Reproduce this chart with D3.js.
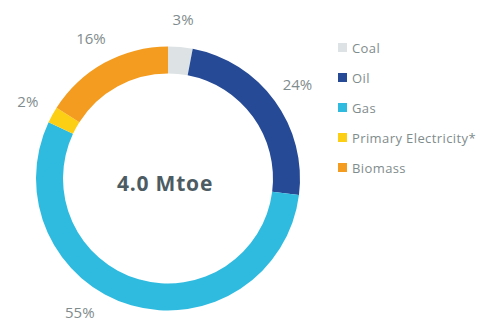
<!DOCTYPE html>
<html><head><meta charset="utf-8">
<script src="https://cdn.jsdelivr.net/npm/d3@7"></script>
<style>body{margin:0;background:#fff}svg{display:block}</style>
</head><body>
<svg id="c" width="486" height="322"></svg>
<script>
const categories = ["Coal", "Oil", "Gas", "Primary Electricity*", "Biomass"];
const shares = [3, 24, 55, 2, 16];
const colors = ["#dde3e4", "#264a96", "#2fbbe0", "#fccf14", "#f39c1f"];
const centerLabel = "4.0 Mtoe";

const W = 486, H = 322;
const cx = 168, cy = 178.5, rOut = 132, rIn = 105, rLab = 160;
const svg = d3.select("#c");
const g = svg.append("g").attr("transform", `translate(${cx},${cy})`);
const pie = d3.pie().sort(null).value(d => d)(shares);
const arc = d3.arc().innerRadius(rIn).outerRadius(rOut);
g.selectAll("path").data(pie).join("path")
  .attr("d", arc).attr("fill", (d, i) => colors[i]);

const txtCol = "#7f8c8d";
g.selectAll("text.lab").data(pie).join("text").attr("class", "lab")
  .each(function(d) {
    let a = (d.startAngle + d.endAngle) / 2;
    let x = rLab * Math.sin(a), y = -rLab * Math.cos(a);
    const maxY = H - 10 - cy;
    if (y > maxY) {
      const s = Math.sign(x) || 1;
      y = maxY;
      x = s * Math.sqrt(rLab * rLab - y * y);
    }
    d3.select(this).attr("x", x).attr("y", y);
  })
  .attr("text-anchor", "middle").attr("dominant-baseline", "central")
  .attr("font-family", "Open Sans, sans-serif").attr("font-size", 15)
  .attr("fill", txtCol)
  .text(d => d.data + "%");

g.append("text").attr("x", -3).attr("y", 4)
  .attr("text-anchor", "middle").attr("dominant-baseline", "central")
  .attr("font-family", "Open Sans, sans-serif").attr("font-weight", "bold")
  .attr("font-size", 21).attr("letter-spacing", 0.8)
  .attr("fill", "#4d5b63").text(centerLabel);

const y = d3.scalePoint().domain(categories).range([47.5, 167.5]);
const lg = svg.append("g");
const rows = lg.selectAll("g").data(categories).join("g")
  .attr("transform", d => `translate(338,${y(d)})`);
rows.append("rect").attr("x", 0).attr("y", -4.5).attr("width", 9).attr("height", 9)
  .attr("fill", (d, i) => colors[i]);
rows.append("text").attr("x", 14).attr("y", 0).attr("dominant-baseline", "central")
  .attr("font-family", "Open Sans, sans-serif").attr("font-size", 13)
  .attr("letter-spacing", 0.4)
  .attr("fill", txtCol).text(d => d);
</script>
</body></html>
